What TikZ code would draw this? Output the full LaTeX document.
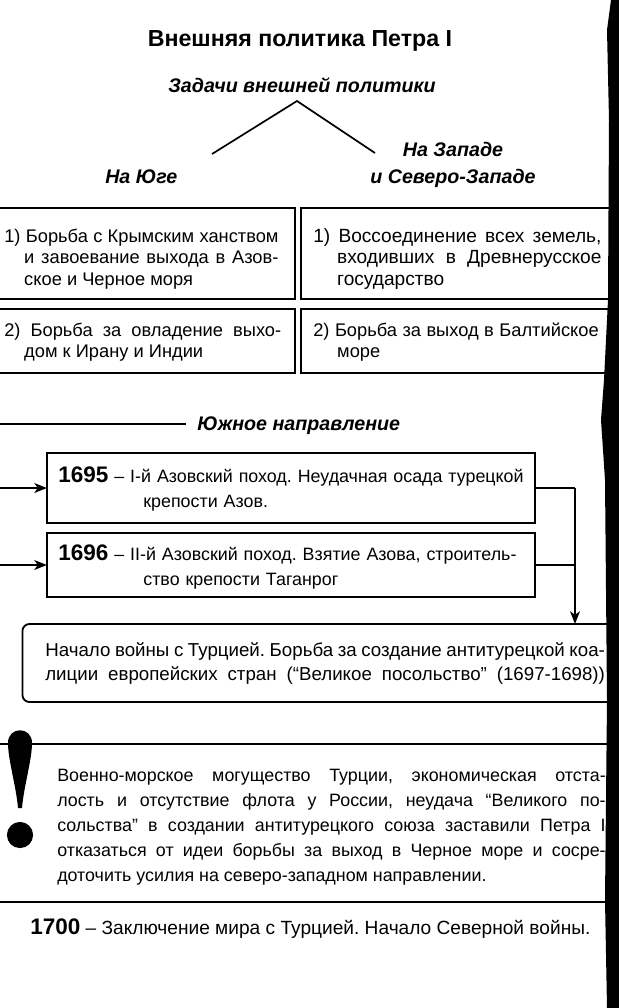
\documentclass[tikz,border=0pt]{standalone}
\usepackage{fontspec}
\setmainfont{Liberation Sans}
\usetikzlibrary{arrows.meta}
\hyphenpenalty=10000
\tolerance=9999
\frenchspacing
\newcommand{\px}{0.7113pt}
\newcommand{\hangpar}[2]{\hangindent=#1\hangafter=1\noindent #2\par}
\newcommand{\yr}[1]{{\fontsize{16}{17.8}\selectfont\bfseries #1}}

\tikzset{
  frame/.style={draw, line width=1.3pt, inner sep=0pt, outer sep=0pt},
  txt/.style={anchor=base west, inner sep=0pt, align=justify, font=\fontsize{13}{15.6}\selectfont},
  head/.style={inner sep=0pt, font=\fontsize{14}{19}\selectfont\bfseries\itshape},
  link/.style={line width=1.2pt},
  arr/.style={-{Stealth[length=9pt,width=7pt,inset=2.5pt]}},
}

\begin{document}
\begin{tikzpicture}[x=0.025cm, y=-0.025cm]
    \clip (0,0) rectangle (619,1008);

    % headings
    \node[inner sep=0pt, anchor=base, font=\fontsize{16.5}{18}\selectfont\bfseries] (title) at (300,46) {Внешняя политика Петра I};
    \node[head, anchor=base] (tasks) at (302,92) {Задачи внешней политики};
    \node[head, anchor=base west] (south) at (105,183) {На Юге};
    \node[head, anchor=base, align=center] (west) at (453,183) {На Западе\\и Северо-Западе};
    \coordinate (apex) at (297,101);
    \draw[link] (212,154) -- (apex) -- (375,153);

    % tasks boxes
    \node[frame, minimum width=305*\px, minimum height=91*\px] (s1) at (142.5,253.5) {};
    \node[frame, minimum width=305*\px, minimum height=64*\px] (s2) at (142.5,341) {};
    \node[frame, minimum width=311*\px, minimum height=91*\px] (w1) at (456.5,253.5) {};
    \node[frame, minimum width=311*\px, minimum height=64*\px] (w2) at (456.5,341) {};
    \node[txt, text width=195pt] (s1t) at (4,242) {\hangpar{14.2pt}{1) Борьба с Крымским ханством\linebreak и завоевание выхода в Азов-\linebreak ское и Черное моря}};
    \node[txt, text width=197pt] (s2t) at (4,336) {\hangpar{14.2pt}{2) Борьба за овладение выхо-\linebreak дом к Ирану и Индии}};
    \node[txt, text width=205pt, font=\fontsize{13.6}{15.6}\selectfont] (w1t) at (313,242) {\hangpar{17pt}{1) Воссоединение всех земель,\linebreak входивших в Древнерусское\linebreak государство}};
    \node[txt, text width=203pt] (w2t) at (313,336) {\hangpar{17pt}{2) Борьба за выход в Балтийское\linebreak море}};

    % southern direction
    \node[head, anchor=base west] (dir) at (197,430) {Южное направление};
    \coordinate (dl) at (0,424);
    \draw[link] (dl) -- ([xshift=-8pt]dir.west |- dl);

    \node[frame, minimum width=488*\px, minimum height=70*\px] (b1695) at (291,488) {};
    \node[frame, minimum width=488*\px, minimum height=64*\px] (b1696) at (291,565) {};
    \node[txt, align=left, text width=345pt, font=\fontsize{12.7}{17.8}\selectfont] (t1695) at (58,482) {\hangpar{60.5pt}{\yr{1695} – I-й Азовский поход. Неудачная осада турецкой\newline крепости Азов.}};
    \node[txt, align=left, text width=345pt, font=\fontsize{12.7}{17.8}\selectfont] (t1696) at (58,560) {\hangpar{60.5pt}{\yr{1696} – II-й Азовский поход. Взятие Азова, строитель-\newline ство крепости Таганрог}};
    \coordinate (in1) at (0,488);
    \coordinate (in2) at (0,565);
    \draw[link, arr] (in1) -- (b1695);
    \draw[link, arr] (in2) -- (b1696);

    \node[frame, rounded corners=5pt, minimum width=595*\px, minimum height=78*\px] (coal) at (320,663) {};
    \node[txt, text width=398pt, font=\fontsize{13.3}{17.5}\selectfont] (coalt) at (45,656) {Начало войны с Турцией. Борьба за создание антитурецкой коа-\linebreak лиции европейских стран (“Великое посольство” (1697-1698))\parfillskip=0pt\par};
    \coordinate (bus) at (575,0);
    \draw[link] (b1695.east) -- (b1695.east -| bus);
    \draw[link] (b1696.east) -- (b1696.east -| bus);
    \draw[link, arr] (b1695.east -| bus) -- (coal.north -| bus);

    % note with the exclamation mark
    \coordinate (nl) at (0,744);
    \draw[link] (nl) -- ++(614,0);
    \fill (8,743) .. controls (8,726) and (32,726) .. (32,743) .. controls (32,760) and (24,785) .. (22,808) -- (18,808) .. controls (16,785) and (8,760) .. (8,743) -- cycle;
    \fill (20,835) circle[radius=9.3pt];
    \node[txt, text width=390pt, font=\fontsize{12.7}{17.8}\selectfont] (reason) at (57,781) {Военно-морское могущество Турции, экономическая отста-\linebreak лость и отсутствие флота у России, неудача “Великого по-\linebreak сольства” в создании антитурецкого союза заставили Петра I\linebreak отказаться от идеи борьбы за выход в Черное море и сосре-\linebreak доточить усилия на северо-западном направлении.};
    \coordinate (bl) at (0,902);
    \draw[link] (bl) -- ++(614,0);
    \node[txt, align=left, font=\fontsize{13.6}{16}\selectfont] (peace) at (30,934) {\yr{1700} – Заключение мира с Турцией. Начало Северной войны.};

    % dark scan edge
    \fill (619,0) -- (611,0) -- (607,30) -- (609,120) -- (608,300) -- (604,380) -- (601,420) -- (605,480) -- (607,700) -- (605,900) -- (607,1008) -- (619,1008) -- cycle;
\end{tikzpicture}
\end{document}
